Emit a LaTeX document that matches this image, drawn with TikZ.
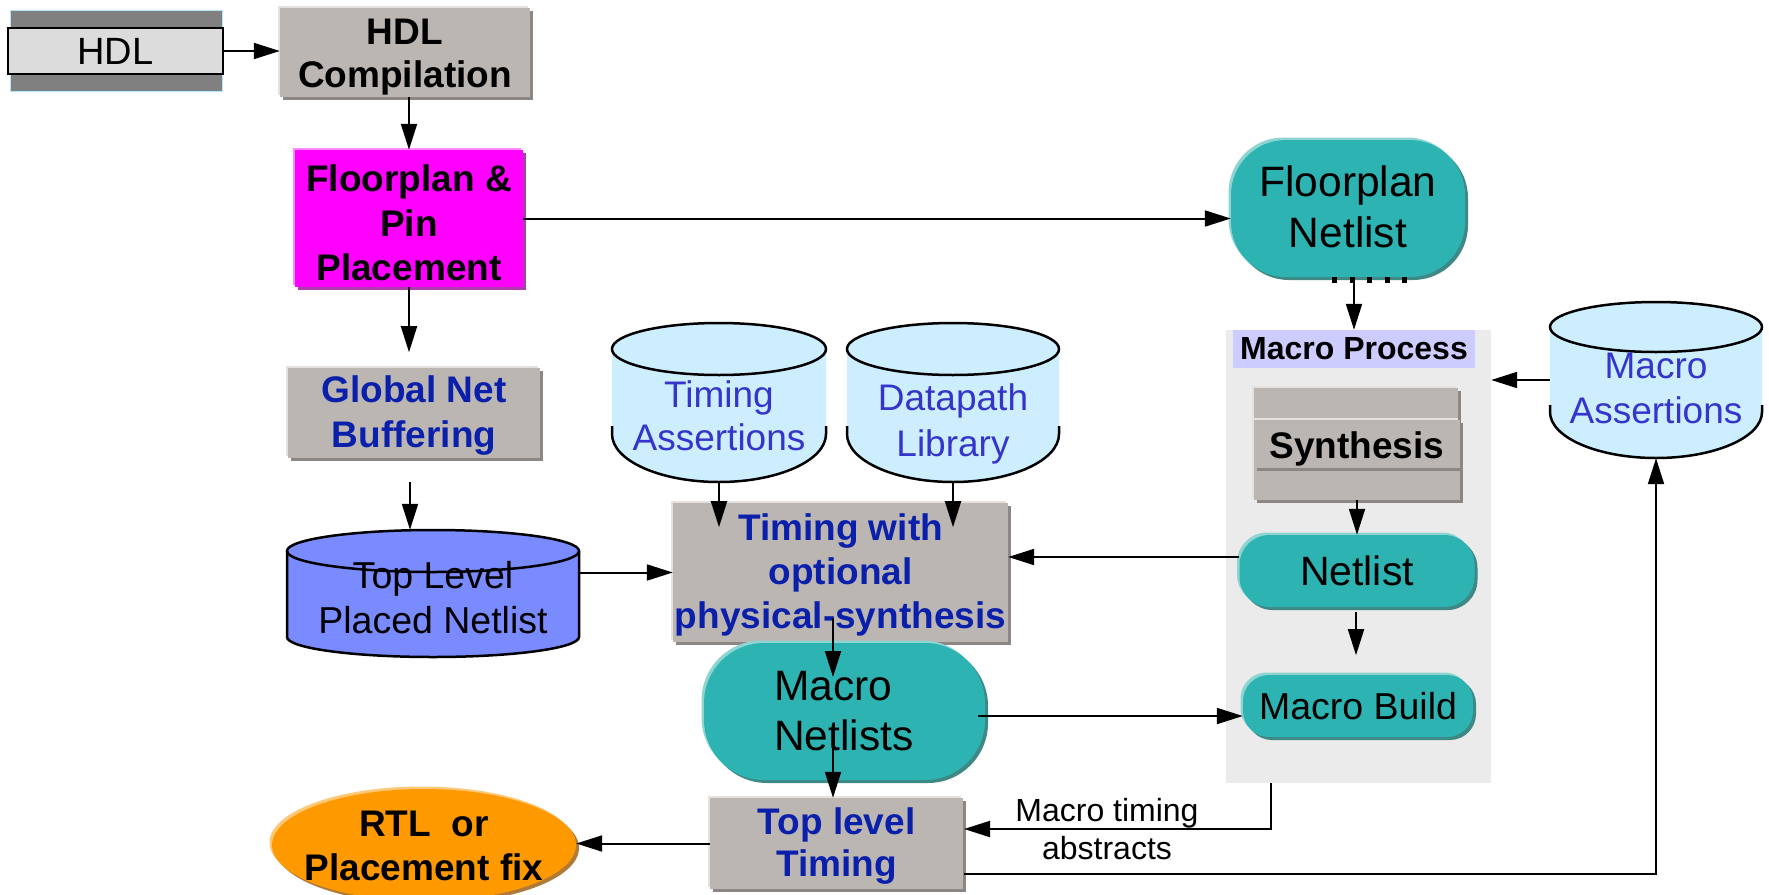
\documentclass[tikz,border=0pt]{standalone}
\usepackage{fontspec}
\setmainfont{Liberation Sans}
\usetikzlibrary{arrows.meta,shadows,shapes.geometric,calc}

\definecolor{boxgray}{HTML}{BCB6B3}
\definecolor{boxshade}{HTML}{8C8785}
\definecolor{boxlight}{HTML}{E4E1DF}
\definecolor{tealfill}{HTML}{2DB4B2}
\definecolor{tealshade}{HTML}{3E8886}
\definecolor{teallight}{HTML}{8ED5D2}
\definecolor{magfill}{HTML}{FF00FF}
\definecolor{magshade}{HTML}{B03AB0}
\definecolor{maglight}{HTML}{FF88FF}
\definecolor{cylfill}{HTML}{CDEEFF}
\definecolor{cyltext}{HTML}{3535CC}
\definecolor{labelblue}{HTML}{0B20AA}
\definecolor{dbfill}{HTML}{7A8BFF}
\definecolor{orangefill}{HTML}{FF9900}
\definecolor{orangeshade}{HTML}{B07A3A}
\definecolor{orangelight}{HTML}{FFC878}
\definecolor{procbg}{HTML}{EBEBEB}
\definecolor{proclabel}{HTML}{CCCCFF}
\definecolor{bandgray}{HTML}{808080}
\definecolor{hdlfill}{HTML}{DCDCDC}

% drum (database) outline:
% #1 centre x, #2 x radius, #3 lid centre y, #4 lid y radius,
% #5 y where the drawn side starts, #6 y where the base arc starts,
% #7 base y radius, #8 fill colour
\newcommand{\drum}[8]{%
  \fill[#8] ({#1-#2},#3) -- ({#1-#2},#6)
     arc[start angle=180,end angle=360,x radius=#2pt,y radius=#7pt]
     -- ({#1+#2},#3) -- cycle;
  \fill[#8] (#1,#3) ellipse[x radius=#2pt,y radius=#4pt];
  \draw[cylline] (#1,#3) ellipse[x radius=#2pt,y radius=#4pt];
  \draw[cylline] ({#1-#2},#5) -- ({#1-#2},#6)
     arc[start angle=180,end angle=360,x radius=#2pt,y radius=#7pt]
     -- ({#1+#2},#5);
}

\begin{document}
\begin{tikzpicture}[x=1pt,y=-1pt,
  arr/.style={line width=2pt,-{Triangle[length=26pt,width=16pt]}},
  cylline/.style={line width=2.5pt,black},
  hl/.style 2 args={general shadow={shadow xshift=-2.5pt,shadow yshift=2.5pt,fill=#1},
                    general shadow={shadow xshift=3pt,shadow yshift=-3pt,fill=#2}},
  graybox/.style={rectangle,inner sep=0pt,fill=boxgray,hl={boxlight}{boxshade}},
  magbox/.style={rectangle,inner sep=0pt,fill=magfill,hl={maglight}{magshade}},
  tealbox/.style={rectangle,inner sep=0pt,rounded corners=#1,fill=tealfill,hl={teallight}{tealshade}},
  bt/.style={inner sep=0pt,align=center,font=\fontsize{37}{#1}\selectfont\bfseries},
  rt/.style 2 args={inner sep=0pt,align=center,font=\fontsize{#1}{#2}\selectfont},
  hold/.style={inner sep=0pt,minimum width=#1},
]
\useasboundingbox (0,0) rectangle (1769,894);

% HDL source
\fill[bandgray] (10,10) rectangle (222,91);
\draw[cyan!30,line width=1pt] (10,10) rectangle (222,91);
\node[draw=black,line width=2pt,fill=hdlfill,minimum width=215pt,minimum height=46pt,
      inner sep=0pt,font=\fontsize{38}{40}\selectfont] (hdl) at (115.5,51) {HDL};

% compilation and floorplanning
\node[graybox,minimum width=250pt,minimum height=89pt] (comp) at (405,52.5) {};
\node[bt=43] (compt) at (405,57) {HDL\\Compilation};

\node[magbox,minimum width=228pt,minimum height=137pt] (fp) at (409,218.5) {};
\node[bt=44.5] (fpt) at (409,223) {Floorplan \&\\Pin\\Placement};

\node[tealbox=55pt,minimum width=234pt,minimum height=137pt] (fpn) at (1348,208.5) {};
\node[rt={42.5}{51}] (fpnt) at (1348,207) {Floorplan\\Netlist};

% macro process group
\node[fill=procbg,minimum width=265pt,minimum height=453pt,inner sep=0pt] (mp) at (1358.5,556.5) {};
\node[fill=proclabel,minimum width=242pt,minimum height=38pt,inner sep=0pt,
      font=\fontsize{32}{34}\selectfont\bfseries] (mpl) at (1354,349) {Macro Process};

\node[graybox,minimum width=204pt,minimum height=32pt] (synt) at (1356,404) {};
\node[graybox,minimum width=206pt,minimum height=32pt] (synb) at (1357,484) {};
\node[graybox,minimum width=206pt,minimum height=48pt] (syn) at (1357,444) {};
\node[bt=40] (synl) at (1357,448.5) {Synthesis};

\node[tealbox=30pt,minimum width=235pt,minimum height=72pt,rt={41}{44}] (nl) at (1357,571) {Netlist};
\node[tealbox=26pt,minimum width=230pt,minimum height=62pt,rt={37.5}{40}] (mb) at (1358,706) {Macro Build};

% assertion and library stores
\drum{1656}{106}{327}{25}{405}{412}{46}{cylfill}
\node[hold=212pt,minimum height=156pt] (mas) at (1656,380) {};
\node[rt={37}{45},text=cyltext] (mast) at (1656,388) {Macro\\Assertions};

\drum{719}{107}{349}{26}{426}{434}{48}{cylfill}
\node[hold=214pt,minimum height=159pt] (ta) at (719,402.5) {};
\node[rt={37}{43},text=cyltext] (tat) at (719,415.6) {Timing\\Assertions};

\drum{953}{106}{349}{26}{426}{434}{48}{cylfill}
\node[hold=212pt,minimum height=159pt] (dl) at (953,402.5) {};
\node[rt={37}{46},text=cyltext] (dlt) at (953,423.9) {Datapath\\Library};

% top-level flow
\node[graybox,minimum width=335pt,minimum height=139pt] (tws) at (840.5,572.5) {};
\node[bt=44,text=labelblue] (twst) at (840.5,574.5) {Timing with\\optional\\physical-synthesis};

\node[graybox,minimum width=252pt,minimum height=90pt] (gnb) at (414,413) {};
\node[bt=45,text=labelblue] (gnbt) at (414,416) {Global Net\\Buffering};

\drum{433}{146}{551}{21}{551}{637}{20}{dbfill}
\node[hold=292pt,minimum height=127pt] (tlpn) at (433,593.5) {};
\node[rt={37.5}{45}] (tlpnt) at (433,597.5) {Top Level\\Placed Netlist};

\node[tealbox=60pt,minimum width=281pt,minimum height=137pt] (mn) at (844.5,711.5) {};
\node[rt={42.5}{50},align=left,anchor=west] (mnt) at (774,711.5) {Macro\\Netlists};

\node[graybox,minimum width=253pt,minimum height=91pt] (tlt) at (836.5,843.5) {};
\node[bt=42,text=labelblue] (tltt) at (836.5,846.5) {Top level\\Timing};

\node[ellipse,fill=orangefill,minimum width=304pt,minimum height=112pt,inner sep=0pt,
      hl={orangelight}{orangeshade}] (rtl) at (424,845) {};
\node[bt=44] (rtlt) at (424,845.7) {RTL\ \ or\\Placement fix};

\node[rt={32}{38}] (mta) at (1107,829.5) {Macro timing\\abstracts};

% connectors
\draw[arr] (hdl.east) -- (hdl.east -| comp.west);
\draw[arr] (fp.north |- comp.south) -- (fp.north);
\draw[arr] (fp.east) -- (fp.east -| fpn.west);

\coordinate (gnbtip) at ($(fp.south)+(0,65)$);
\draw[arr] (fp.south) -- (gnbtip);
\coordinate (gnbout) at ($(gnb.south)+(-4,24)$);
\draw[arr] (gnbout) -- (gnbout |- tlpn.north);
\draw[arr] (tws.west -| tlpn.east) -- (tws.west);

\coordinate (tatip) at ($(ta.south)+(0,45)$);
\draw[arr] (ta.south) -- (tatip);
\coordinate (dltip) at ($(dl.south)+(0,45)$);
\draw[arr] (dl.south) -- (dltip);

\draw[line width=6pt,dash pattern=on 5pt off 12.5pt] ($(fpn.south)+(-16,3)$) -- ($(fpn.south)+(62,3)$);
\draw[arr] (mpl.north |- fpn.south) -- (mpl.north);
\draw[arr] (mas.west) -- (mas.west -| mp.east);
\draw[arr] (synb.south) -- (nl.north);

\coordinate (nlw) at ($(nl.west)+(0,-14)$);
\draw[arr] (nlw) -- (nlw -| tws.east);
\coordinate (nlout) at ($(nl.south)+(-1,5)$);
\coordinate (mbin) at ($(nlout)+(0,43)$);
\draw[arr] (nlout) -- (mbin);

\coordinate (twsout) at (833,618);
\coordinate (mnin) at (833,677);
\draw[arr] (twsout) -- (mnin);
\coordinate (mnout) at (833,747);
\draw[arr] (mnout) -- (mnout |- tlt.north);
\coordinate (mnr) at (978,716);
\draw[arr] (mnr) -- (mnr -| mb.west);

\coordinate (mpout) at (1271,783);
\coordinate (tltin) at (964,829);
\draw[arr] (mpout) |- (tltin);
\draw[arr] (tlt.west) -- (tlt.west -| rtl.east);
\coordinate (tltout) at (964,874);
\draw[arr] (tltout) -| (mas.south);
\end{tikzpicture}
\end{document}
